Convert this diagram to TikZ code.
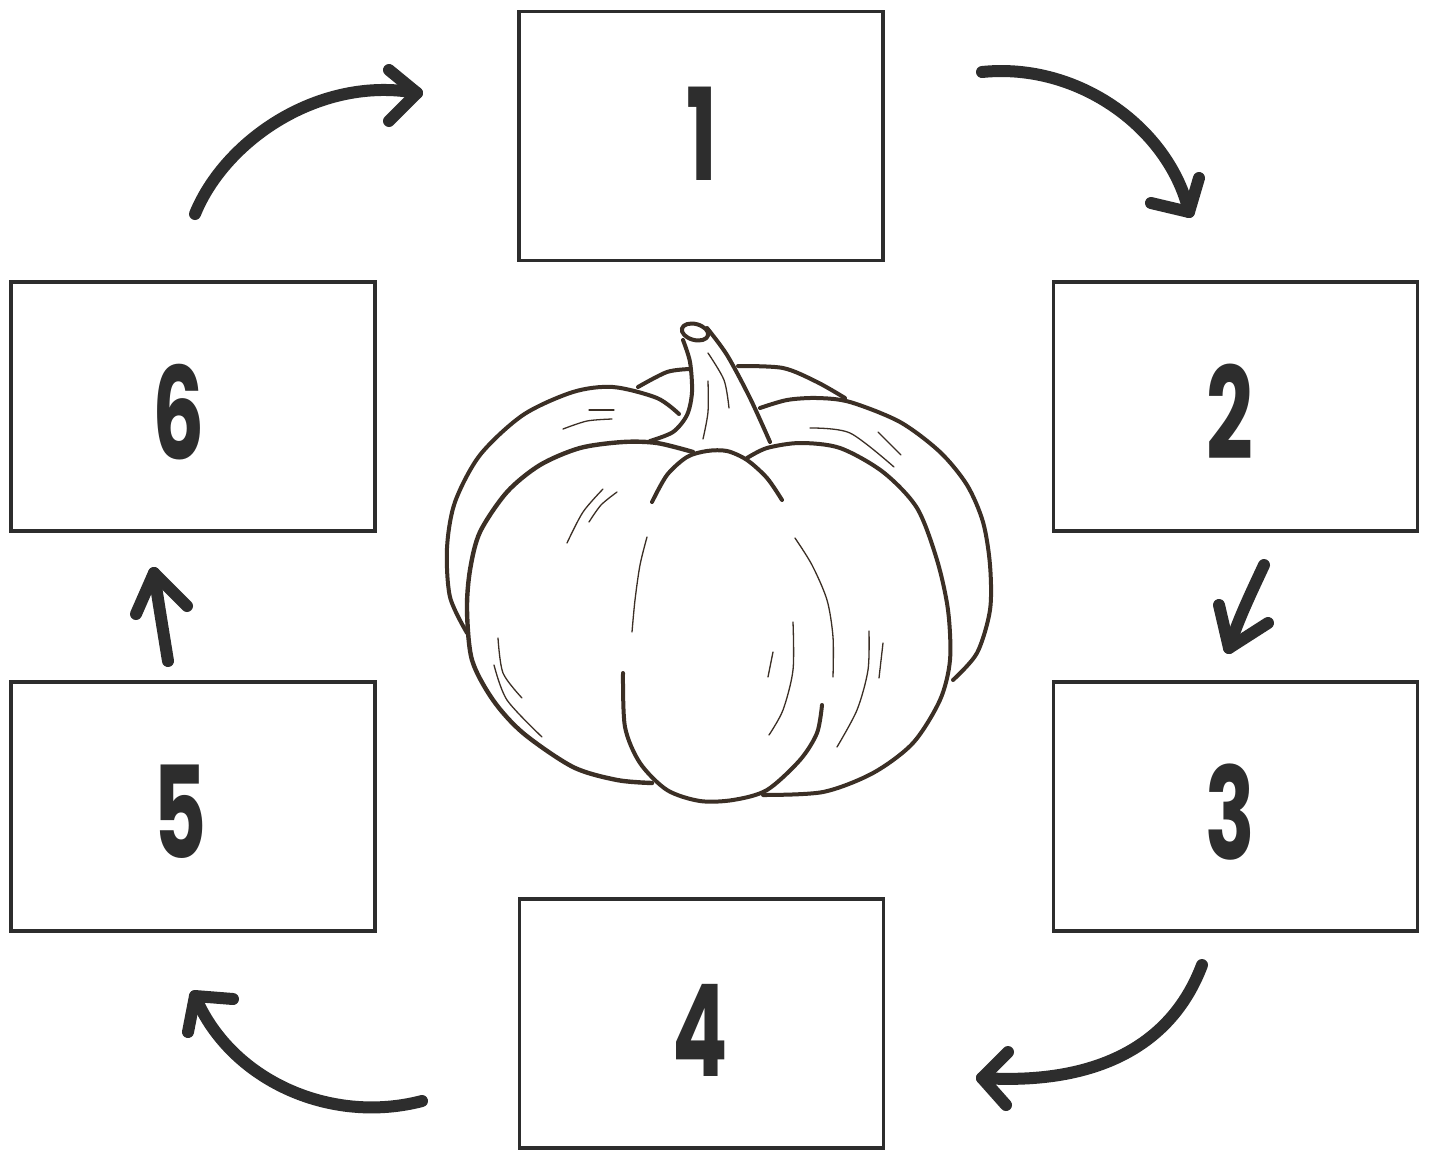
\documentclass[tikz,border=0pt]{standalone}
\usepackage{fontspec}
\newfontfamily\numfont{Poppins}
\definecolor{ink}{HTML}{2D2D2D}
\definecolor{pk}{HTML}{3B2F25}
\tikzset{
  box/.style={draw=ink, line width=3.4pt, rectangle, minimum width=364pt, minimum height=249pt, inner sep=0pt},
  num/.style={inner sep=0pt, text=ink, font=\numfont\bfseries\fontsize{128}{130}\selectfont},
  brush/.style={draw=ink, line width=12pt, line cap=round, line join=round},
  pkline/.style={draw=pk, line width=4pt, line cap=round, line join=round},
  pkthin/.style={draw=pk, line width=1.3pt, line cap=round},
}
\newcommand{\dg}[1]{\scalebox{0.64}[1]{#1}}
\begin{document}
\begin{tikzpicture}[x=1pt,y=-1pt]
\useasboundingbox[fill=white] (0,0) rectangle (1432,1152);
% boxes
\node[box] (b1) at (701,136) {};
\node[box] (b2) at (1235.5,406.5) {};
\node[box] (b3) at (1235.5,806.5) {};
\node[box] (b4) at (701.5,1023.5) {};
\node[box] (b5) at (193,806.5) {};
\node[box] (b6) at (193,406.5) {};
% numbers
\node[num] (n1) at (702,134) {\dg{1}};
\node[num] (n2) at (1230,412) {\dg{2}};
\node[num] (n3) at (1230,812) {\dg{3}};
\node[num] (n4) at (700,1030) {\dg{4}};
\node[num] (n5) at (180,812) {\dg{5}};
\node[num] (n6) at (179,412) {\dg{6}};
% arrow coordinates
\coordinate (a1s) at (195,214); \coordinate (a1t) at (417,93);
\coordinate (a2s) at (982,72);  \coordinate (a2t) at (1189,212);
\coordinate (a3s) at (1264,565); \coordinate (a3t) at (1229,648);
\coordinate (a4s) at (1202,965); \coordinate (a4t) at (982,1078);
\coordinate (a5s) at (422,1101); \coordinate (a5t) at (195,996);
\coordinate (a6s) at (168,661); \coordinate (a6t) at (154,573);
% arrow 6 -> 1
\draw[brush] (a1s) .. controls (225,140) and (320,75) .. (a1t);
\draw[brush] (389,70) -- (a1t) -- (389,121);
% arrow 1 -> 2
\draw[brush] (a2s) .. controls (1080,62) and (1170,130) .. (a2t);
\draw[brush] (1151,203) -- (a2t) -- (1199,178);
% arrow 2 -> 3
\draw[brush] (a3s) .. controls (1250,595) and (1238,620) .. (a3t);
\draw[brush] (1219,605) -- (a3t) -- (1268,623);
% arrow 3 -> 4
\draw[brush] (a4s) .. controls (1170,1050) and (1090,1085) .. (a4t);
\draw[brush] (1008,1052) -- (a4t) -- (1006,1105);
% arrow 4 -> 5
\draw[brush] (a5s) .. controls (330,1125) and (230,1080) .. (a5t);
\draw[brush] (233,999) -- (a5t) -- (188,1032);
% arrow 5 -> 6
\draw[brush] (a6s) .. controls (163,630) and (158,600) .. (a6t);
\draw[brush] (136,614) -- (a6t) -- (187,606);
% pumpkin
% back lobe
\draw[pkline] plot[smooth] coordinates {(638,387) (667,372) (690,369)};
\draw[pkline] plot[smooth] coordinates {(738,366) (783,368) (817,382) (845,398)};
% left outer lobe
\draw[pkline] plot[smooth] coordinates {(679,414) (657,398) (613,387) (573,392) (523,415) (480,455) (455,502) (447,548) (450,597) (467,633)};
% right outer lobe
\draw[pkline] plot[smooth] coordinates {(760,408) (787,400) (817,398) (850,402) (900,422) (940,452) (967,485) (983,522) (990,565) (990,610) (977,653) (953,680)};
% front left lobe
\draw[pkline, line width=4.4pt] plot[smooth] coordinates {(693,452) (657,443) (623,442) (580,448) (540,465) (507,492) (480,532) (470,570) (467,610) (472,660) (493,700) (523,733) (573,767) (617,780) (652,783)};
% front right lobe
\draw[pkline] plot[smooth] coordinates {(747,458) (767,448) (800,443) (840,448) (883,472) (917,508) (937,560) (948,610) (950,660) (940,700) (913,743) (873,773) (823,792) (763,795)};
% center lobe top
\draw[pkline] plot[smooth] coordinates {(652,502) (667,475) (687,457) (707,451) (727,451) (747,460) (767,478) (782,500)};
% center lobe bottom
\draw[pkline] plot[smooth] coordinates {(623,673) (625,727) (640,763) (667,790) (700,801) (733,800) (767,790) (800,760) (817,733) (822,705)};
% stem
\draw[pkline, rotate around={-15:(695,332)}] (695,332) ellipse [x radius=13.5, y radius=8];
\draw[pkline] plot[smooth] coordinates {(683,340) (690,362) (692,392) (687,415) (673,432) (650,441)};
\draw[pkline] plot[smooth] coordinates {(707,328) (727,355) (750,398) (770,442)};
\draw[pkthin] plot[smooth] coordinates {(708,353) (724,380) (729,408)};
\draw[pkthin] plot[smooth] coordinates {(708,381) (708,412) (703,439)};
% thin shading lines
\draw[pkthin] (589,410) -- (614,410);
\draw[pkthin] plot[smooth] coordinates {(563,429) (587,421) (612,419)};
\draw[pkthin] plot[smooth] coordinates {(810,428) (850,433) (894,467)};
\draw[pkthin] plot[smooth] coordinates {(878,432) (901,455)};
\draw[pkthin] plot[smooth] coordinates {(603,489) (583,512) (567,543)};
\draw[pkthin] plot[smooth] coordinates {(617,492) (601,505) (589,522)};
\draw[pkthin] plot[smooth] coordinates {(647,537) (640,565) (635,600) (632,632)};
\draw[pkthin] plot[smooth] coordinates {(795,538) (812,565) (827,600) (833,637) (833,677)};
\draw[pkthin] plot[smooth] coordinates {(498,638) (503,673) (522,698)};
\draw[pkthin] plot[smooth] coordinates {(494,665) (507,700) (542,737)};
\draw[pkthin] (773,652) -- (768,677);
\draw[pkthin] plot[smooth] coordinates {(793,622) (793,670) (783,710) (769,735)};
\draw[pkthin] plot[smooth] coordinates {(869,631) (868,670) (857,710) (837,747)};
\draw[pkthin] (883,643) -- (879,678);
\end{tikzpicture}
\end{document}
